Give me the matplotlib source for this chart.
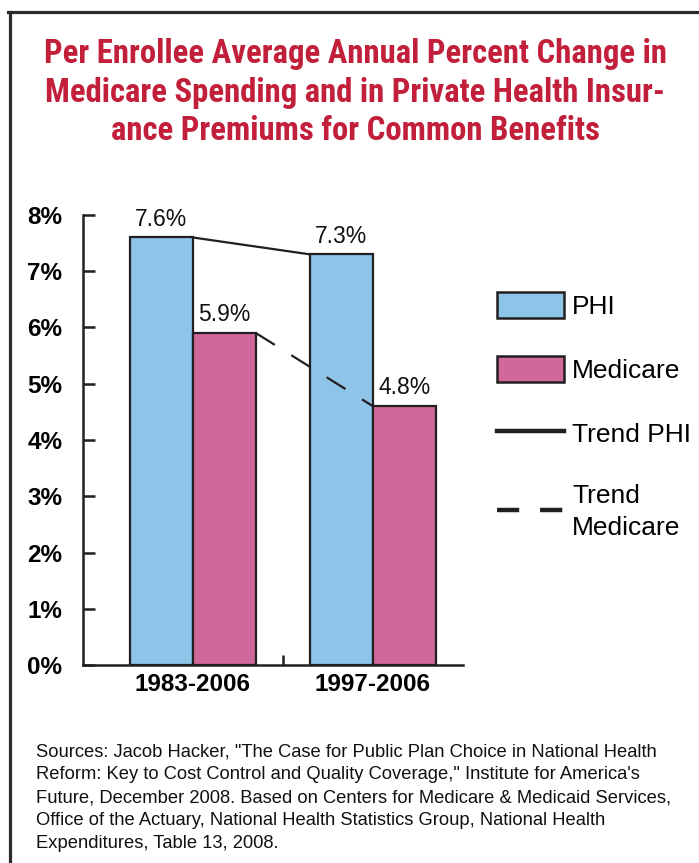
import matplotlib
matplotlib.use("Agg")
import matplotlib.pyplot as plt
from matplotlib import font_manager
from matplotlib.font_manager import FontProperties
from matplotlib.lines import Line2D
from matplotlib.patches import Patch
import numpy as np

# ---- data ----
periods = ["1983-2006", "1997-2006"]
phi_values = [7.6, 7.3]
medicare_values = [5.9, 4.6]
phi_labels = ["7.6%", "7.3%"]
medicare_labels = ["5.9%", "4.8%"]
y_ticks = [0, 1, 2, 3, 4, 5, 6, 7, 8]
y_tick_labels = ["0%", "1%", "2%", "3%", "4%", "5%", "6%", "7%", "8%"]
series_names = ["PHI", "Medicare", "Trend PHI", "Trend\nMedicare"]

title_lines = [
    "Per Enrollee Average Annual Percent Change in",
    "Medicare Spending and in Private Health Insur-",
    "ance Premiums for Common Benefits",
]
source_lines = [
    'Sources: Jacob Hacker, "The Case for Public Plan Choice in National Health',
    'Reform: Key to Cost Control and Quality Coverage," Institute for America\'s',
    "Future, December 2008. Based on Centers for Medicare & Medicaid Services,",
    "Office of the Actuary, National Health Statistics Group, National Health",
    "Expenditures, Table 13, 2008.",
]

# ---- style ----
plt.rcParams["font.family"] = ["Liberation Sans", "DejaVu Sans"]
plt.rcParams["lines.scale_dashes"] = False


def _is_bold(f):
    wt = f.weight
    if isinstance(wt, str):
        return wt.lower() in ("bold", "heavy", "black", "semibold", "demibold", "extra bold")
    return wt >= 600


condensed = [f for f in font_manager.fontManager.ttflist
             if _is_bold(f) and f.style == "normal" and
             (("Narrow" in f.name) or ("Condensed" in f.name) or
              (str(f.stretch) in ("condensed", "semi-condensed", "extra-condensed")))]
pref = ["Liberation Sans Narrow", "Roboto Condensed", "Open Sans Condensed",
        "DejaVu Sans", "Noto Sans"]
condensed.sort(key=lambda f: pref.index(f.name) if f.name in pref else 99)
if condensed:
    title_fp = FontProperties(fname=condensed[0].fname, size=23.6)
else:
    title_fp = FontProperties(family=["Liberation Sans", "DejaVu Sans"], weight="bold", size=19.8)

PHI_COLOR = "#8DC4E8"
MED_COLOR = "#D1689B"
INK = "#231F20"
RED = "#C21F3A"

W, H = 699, 863
fig = plt.figure(figsize=(W / 100, H / 100), dpi=100)

# frame
fig.add_artist(Line2D([8 / W, 1.0], [1 - 12.5 / H] * 2, transform=fig.transFigure,
                      color="#2B2B2B", lw=2.3, solid_capstyle="projecting"))
fig.add_artist(Line2D([9.5 / W] * 2, [0.0, 1 - 12.5 / H], transform=fig.transFigure,
                      color="#2B2B2B", lw=2.3, solid_capstyle="projecting"))

# title
title_baselines = [63, 102, 140]
for line, yb in zip(title_lines, title_baselines):
    fig.text(355 / W, 1 - yb / H, line, ha="center", va="baseline",
             fontproperties=title_fp, color=RED)

# axes
ax_left, ax_right, ax_bottom, ax_top = 83, 463, 665, 215
ax = fig.add_axes([ax_left / W, 1 - ax_bottom / H, (ax_right - ax_left) / W,
                   (ax_bottom - ax_top) / H])
x = np.arange(len(periods))
w = 0.35
ax.bar(x - w / 2, phi_values, width=w, color=PHI_COLOR, edgecolor=INK, linewidth=1.6,
       zorder=2, label=series_names[0])
ax.bar(x + w / 2, medicare_values, width=w, color=MED_COLOR, edgecolor=INK, linewidth=1.6,
       zorder=2, label=series_names[1])

# trend lines: right edge of first bar to left edge of second bar of each series
ax.plot([x[0], x[1] - w], phi_values, color=INK, lw=1.6, zorder=3)
ax.plot([x[0] + w, x[1]], medicare_values, color=INK, lw=1.6, dashes=(16, 14), zorder=3)

for xi, v, lab in zip(x - w / 2, phi_values, phi_labels):
    ax.annotate(lab, (xi, v), xytext=(0, 8.5), textcoords="offset points", ha="center",
                va="baseline", fontsize=16.5, color="#111111")
for xi, v, lab in zip(x + w / 2, medicare_values, medicare_labels):
    ax.annotate(lab, (xi, v), xytext=(0, 8.5), textcoords="offset points", ha="center",
                va="baseline", fontsize=16.5, color="#111111")

ax.set_xlim(-0.6111, 1.5)
ax.set_ylim(0, 8)
ax.set_yticks(y_ticks)
ax.set_yticklabels(y_tick_labels, fontsize=17.5, fontweight="bold")
ax.set_xticks(x)
ax.set_xticklabels(periods, fontsize=17.5, fontweight="bold")
ax.set_xticks([0.5], minor=True)
ax.tick_params(axis="y", direction="in", length=8.5, width=1.8, color=INK, pad=15)
ax.tick_params(axis="x", which="major", length=0, pad=6)
ax.tick_params(axis="x", which="minor", direction="in", length=7, width=1.8, color=INK)
for s in ["top", "right"]:
    ax.spines[s].set_visible(False)
for s in ["left", "bottom"]:
    ax.spines[s].set_linewidth(1.8)
    ax.spines[s].set_color(INK)
ax.patch.set_visible(False)

# legend
handles = [
    Patch(facecolor=PHI_COLOR, edgecolor=INK, linewidth=1.8),
    Patch(facecolor=MED_COLOR, edgecolor=INK, linewidth=1.8),
    Line2D([], [], color=INK, lw=3.2),
    Line2D([], [], color=INK, lw=3.2, dashes=(16, 15)),
]
leg = fig.legend(handles, series_names, loc="upper left",
                 bbox_to_anchor=(497 / W, 1 - 292 / H), frameon=False, fontsize=19,
                 handlelength=2.54, handleheight=1.14, handletextpad=0.3,
                 labelspacing=1.4, borderpad=0, borderaxespad=0)
leg.get_texts()[3].set_linespacing(1.45)

# sources
source_baselines = [756, 779, 802, 825, 848]
for line, yb in zip(source_lines, source_baselines):
    fig.text(36 / W, 1 - yb / H, line, ha="left", va="baseline", fontsize=13.2,
             color="#111111")

fig.savefig("out.png", dpi=100)
